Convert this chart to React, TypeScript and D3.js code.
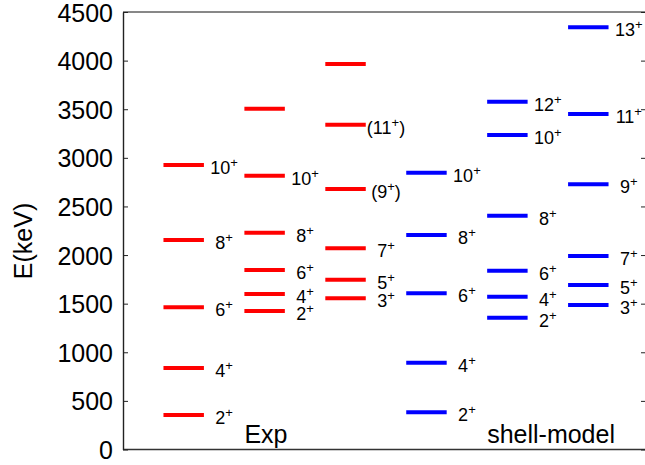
import React, { useEffect, useRef } from "react";
import * as d3 from "d3";

// tick values on the energy axis
const yTicks = [0, 500, 1000, 1500, 2000, 2500, 3000, 3500, 4000, 4500];

// experimental levels (keV), three columns
const expEnergies = [
    [355, 838, 1463, 2155, 2926],
    [1425, 1600, 1846, 2230, 2816, 3505],
    [1555, 1747, 2070, 2680, 3341, 3965],
];
const expSpins = [
    ["2+", "4+", "6+", "8+", "10+"],
    ["2+", "4+", "6+", "8+", "10+", ""],
    ["3+", "5+", "7+", "(9+)", "(11+)", ""],
];

// shell-model levels (keV), three columns
const smEnergies = [
    [383, 893, 1607, 2206, 2847],
    [1356, 1572, 1839, 2405, 3235, 3578],
    [1486, 1692, 1990, 2728, 3451, 4343],
];
const smSpins = [
    ["2+", "4+", "6+", "8+", "10+"],
    ["2+", "4+", "6+", "8+", "10+", "12+"],
    ["3+", "5+", "7+", "9+", "11+", "13+"],
];

const groupNames = ["Exp", "shell-model"];
const groupStart = [1.5, 4.5];
const groupLabelE = 70;

const FONT = "'Liberation Sans', Arial, Helvetica, sans-serif";

const App = () => {
    const ref = useRef<SVGSVGElement>(null);

    useEffect(() => {
        const svg = d3.select(ref.current);
        svg.selectAll("*").remove();

        const height = 465;
        const margin = { top: 12, bottom: 15.5, left: 123 };

        const x = d3.scaleLinear().domain([0, 6.5]).range([margin.left, 649]);
        const y = d3.scaleLinear().domain([0, 4500]).range([height - margin.bottom, margin.top]);
        const right = 646;

        const columns = [
            ...expEnergies.map((e, i) => ({ energies: e, spins: expSpins[i], color: "#ff0000" })),
            ...smEnergies.map((e, i) => ({ energies: e, spins: smSpins[i], color: "#0000ff" })),
        ];
        const levels = columns.flatMap((c, ci) =>
            c.energies.map((E, k) => ({ col: ci, E, spin: c.spins[k], color: c.color }))
        );

        // frame: top & bottom lines
        svg.append("line")
            .attr("x1", margin.left).attr("x2", right)
            .attr("y1", y(4500)).attr("y2", y(4500))
            .attr("stroke", "#111").attr("stroke-width", 1);
        svg.append("line")
            .attr("x1", margin.left).attr("x2", right)
            .attr("y1", y(0)).attr("y2", y(0))
            .attr("stroke", "#333").attr("stroke-width", 1.6);

        // left axis
        const left = svg.append("g")
            .attr("transform", `translate(${margin.left},0)`)
            .call(d3.axisLeft(y).tickValues(yTicks).tickFormat(d3.format("d"))
                .tickSizeInner(-5).tickSizeOuter(0).tickPadding(10));
        left.select(".domain").attr("stroke", "#222").attr("stroke-width", 1.4);
        left.selectAll(".tick line").attr("stroke", "#222");
        left.selectAll(".tick text")
            .attr("font-family", FONT).attr("font-size", 25).attr("fill", "#000")
            .attr("dy", "0.36em");

        // right axis (ticks only)
        const rightAxis = svg.append("g")
            .attr("transform", `translate(${right},0)`)
            .call(d3.axisRight(y).tickValues(yTicks).tickSizeInner(-5).tickSizeOuter(0).tickFormat(() => ""));
        rightAxis.select(".domain").attr("stroke", "#222");
        rightAxis.selectAll(".tick line").attr("stroke", "#222");

        // y label
        svg.append("text")
            .attr("transform", `translate(32,241) rotate(-90)`)
            .attr("text-anchor", "middle")
            .attr("font-family", FONT).attr("font-size", 25)
            .text("E(keV)");

        // level bars
        svg.append("g").selectAll("line")
            .data(levels)
            .join("line")
            .attr("x1", (d) => x(d.col + 0.5))
            .attr("x2", (d) => x(d.col + 1.0))
            .attr("y1", (d) => y(d.E))
            .attr("y2", (d) => y(d.E))
            .attr("stroke", (d) => d.color)
            .attr("stroke-width", 4);

        // spin labels
        const labels = svg.append("g").selectAll("text")
            .data(levels.filter((d) => d.spin !== ""))
            .join("text")
            .attr("x", (d) => x(d.col + 1.25))
            .attr("y", (d) => y(d.E) + 9)
            .attr("text-anchor", "middle")
            .attr("font-family", FONT)
            .attr("font-size", 18);
        labels.each(function (d) {
            const t = d3.select(this);
            const [pre, post] = d.spin.split("+");
            t.append("tspan").text(pre);
            t.append("tspan").attr("font-size", 13).attr("dy", -7).text("+");
            if (post) t.append("tspan").attr("dy", 7).text(post);
        });

        // group names
        svg.append("g").selectAll("text")
            .data(groupNames)
            .join("text")
            .attr("x", (d, i) => x(groupStart[i]))
            .attr("y", y(groupLabelE))
            .attr("font-family", FONT)
            .attr("font-size", 25)
            .text((d) => d);
    }, []);

    return (
        <svg
            ref={ref}
            width={645}
            height={465}
            style={{ position: "absolute", left: 0, top: 0, background: "#fff" }}
        />
    );
};

export default App;
